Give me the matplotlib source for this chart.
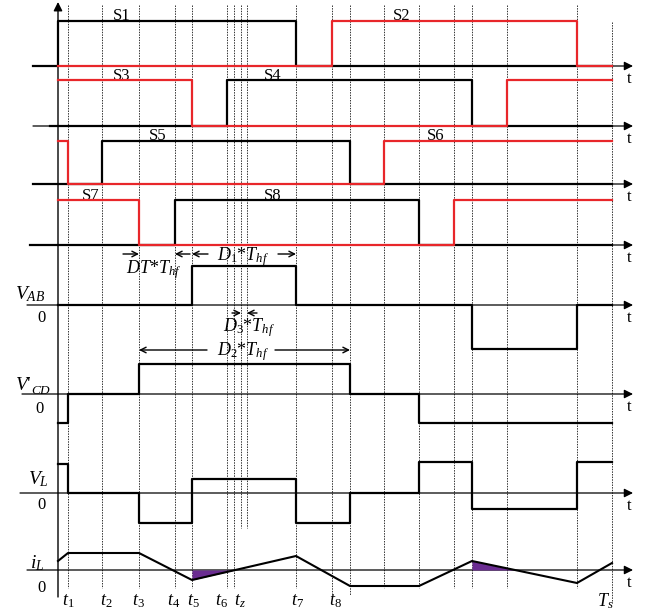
import matplotlib
matplotlib.use('Agg')
import matplotlib.pyplot as plt
import numpy as np

plt.rcParams['font.family'] = ['Liberation Serif', 'DejaVu Serif']
plt.rcParams['mathtext.fontset'] = 'custom'
plt.rcParams['mathtext.rm'] = 'Liberation Serif'
plt.rcParams['mathtext.it'] = 'Liberation Serif:italic'
plt.rcParams['mathtext.bf'] = 'Liberation Serif:bold'

RED = '#e8262a'
PURPLE = '#6a2c91'

# time instants (dashed guide lines), in drawing units
guide_t = [68, 102, 139, 175, 192, 227, 234, 241, 247, 296, 332, 350, 384, 419, 454, 472, 507, 577, 612]
guide_top = [5, 5, 5, 5, 5, 5, 5, 5, 5, 5, 5, 5, 5, 5, 5, 5, 5, 5, 22]
guide_bot = [588, 588, 588, 588, 588, 588, 588, 528, 528, 588, 595, 595, 588, 588, 588, 588, 588, 588, 603]

tick_names = [r'$t_1$', r'$t_2$', r'$t_3$', r'$t_4$', r'$t_5$', r'$t_6$', r'$t_z$', r'$t_7$', r'$t_8$', r'$T_s$']
tick_pos = [68, 106, 138, 174, 193, 221, 240, 298, 335, 605]

# gate signals: switching instants and on/off levels
S1_t = [33, 58, 296, 612];   S1_v = [0, 1, 0]
S2_t = [58, 332, 577, 612];  S2_v = [0, 1, 0]
S3_t = [58, 192, 507, 612];  S3_v = [1, 0, 1]
S4_t = [50, 227, 472, 612];  S4_v = [0, 1, 0]
S5_t = [33, 102, 350, 612];  S5_v = [0, 1, 0]
S6_t = [58, 68, 384, 612];   S6_v = [1, 0, 1]
S7_t = [58, 139, 454, 612];  S7_v = [1, 0, 1]
S8_t = [30, 175, 419, 612];  S8_v = [0, 1, 0]

# voltages / current (offset from their zero line)
VAB_t = [58, 192, 296, 472, 577, 612]
VAB_v = [0, 39, 0, -44, 0]
VCD_t = [58, 68, 139, 350, 419, 612]
VCD_v = [-29, 0, 30, 0, -29]
VL_t = [58, 68, 139, 192, 296, 350, 419, 472, 577, 612]
VL_v = [29, 0, -30, 14, -30, 0, 31, -16, 31]
iL_t = [58, 68, 139, 192, 296, 350, 419, 472, 577, 612]
iL_v = [9, 17, 17, -10, 14, -16, -16, 9, -13, 7]

fig = plt.figure(figsize=(6.45, 6.1), dpi=100)
ax = fig.add_axes([0, 0, 1, 1])
ax.set_xlim(0, 645)
ax.set_ylim(610, 0)
ax.axis('off')

# guide lines
for x, y0, y1 in zip(guide_t, guide_top, guide_bot):
    ax.plot([x, x], [y0, y1], color='#333333', lw=0.7, ls=(0, (1.5, 1.2)), zorder=1)


def axis_line(y, x0):
    ax.annotate('', xy=(633, y), xytext=(x0, y),
                arrowprops=dict(arrowstyle='-|>', lw=0.9, color='black',
                                mutation_scale=13, shrinkA=0, shrinkB=0), zorder=2)
    ax.text(629, y + 13, 't', fontsize=12, ha='center', va='center')


def step(t, v, base, amp, color, lw=1.6, z=3):
    y = [base - amp * a for a in list(v) + [v[-1]]]
    ax.step(t, y, where='post', color=color, lw=lw, zorder=z)


# main vertical axis
ax.annotate('', xy=(58, 2), xytext=(58, 597),
            arrowprops=dict(arrowstyle='-|>', lw=1.0, color='black',
                            mutation_scale=13, shrinkA=0, shrinkB=0), zorder=2)

# gate panels
panels = [(66, 45, S1_t, S1_v, S2_t, S2_v, 33),
          (126, 46, S4_t, S4_v, S3_t, S3_v, 33),
          (184, 43, S5_t, S5_v, S6_t, S6_v, 33),
          (245, 45, S8_t, S8_v, S7_t, S7_v, 30)]
for base, amp, bt, bv, rt, rv, x0 in panels:
    axis_line(base, x0)
    step(bt, bv, base, amp, 'black')
    step(rt, rv, base, amp, RED, z=4)

for name, x, y in [('S1', 122, 16), ('S2', 402, 16), ('S3', 122, 76), ('S4', 273, 76),
                   ('S5', 158, 136), ('S6', 436, 136), ('S7', 91, 196), ('S8', 273, 196)]:
    ax.text(x, y, name, fontsize=12, ha='center', va='center')

# V_AB
axis_line(305, 27)
step(VAB_t, VAB_v, 305, 1, 'black')
# V'_CD
axis_line(394, 22)
step(VCD_t, VCD_v, 394, 1, 'black')
# V_L
axis_line(493, 20)
step(VL_t, VL_v, 493, 1, 'black')
# i_L
axis_line(570, 27)
iy = [570 - v for v in iL_v]
ax.plot(iL_t, iy, color='black', lw=1.5, zorder=3)
for a, b, sign in [(192, 296, -1), (472, 577, 1)]:
    xf = np.linspace(a, b, 400)
    yf = np.interp(xf, iL_t, iL_v)
    ax.fill_between(xf, 570, 570 - yf, where=sign * yf > 0, interpolate=True,
                    color=PURPLE, lw=0, zorder=2.5)

# left labels
ax.text(30, 294, r'$V_{AB}$', fontsize=14, ha='center', va='center')
ax.text(42, 318, '0', fontsize=12, ha='center', va='center')
ax.text(15, 386, r"$V$'", fontsize=14, ha='left', va='center')
ax.text(31, 391, r'$CD$', fontsize=9.5, ha='left', va='center')
ax.text(40, 409, '0', fontsize=12, ha='center', va='center')
ax.text(38, 479, r'$V_{L}$', fontsize=14, ha='center', va='center')
ax.text(42, 505, '0', fontsize=12, ha='center', va='center')
ax.text(37, 563, r'$i_{L}$', fontsize=14, ha='center', va='center')
ax.text(42, 588, '0', fontsize=12, ha='center', va='center')

# bottom time labels
for name, x in zip(tick_names, tick_pos):
    ax.text(x, 601, name, fontsize=13, ha='center', va='center')


def arrow(x0, x1, y):
    ax.annotate('', xy=(x1, y), xytext=(x0, y),
                arrowprops=dict(arrowstyle='->', lw=1.0, color='black',
                                mutation_scale=10, shrinkA=0, shrinkB=0), zorder=3)


# duty annotations
arrow(123, 139, 254); arrow(190, 175, 254)
ax.text(154, 270, r'$DT$*$T_{hf}$', fontsize=13, ha='center', va='center')
arrow(208, 192, 254); arrow(278, 296, 254)
ax.text(243, 257, r'$D_1$*$T_{hf}$', fontsize=13, ha='center', va='center')
arrow(232, 241, 313); arrow(257, 247, 313)
ax.text(249, 328, r'$D_3$*$T_{hf}$', fontsize=13, ha='center', va='center')
arrow(207, 139, 350); arrow(275, 350, 350)
ax.text(243, 352, r'$D_2$*$T_{hf}$', fontsize=13, ha='center', va='center')

fig.savefig('out.png', dpi=100)
